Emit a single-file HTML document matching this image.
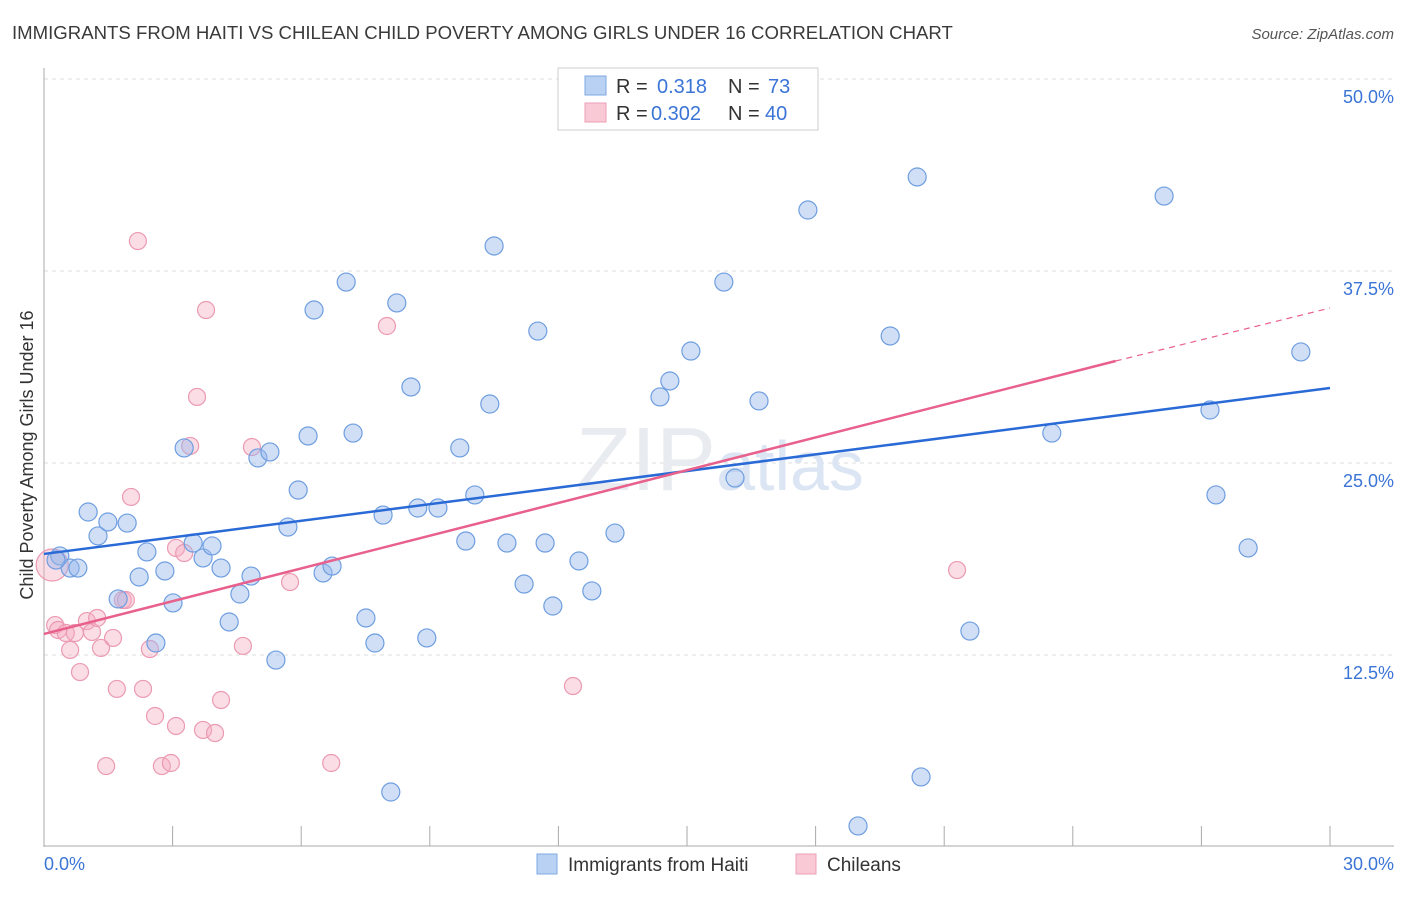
<!DOCTYPE html>
<html><head><meta charset="utf-8"><style>
body{margin:0;background:#fff;font-family:"Liberation Sans",sans-serif;}
svg text{font-family:"Liberation Sans",sans-serif;}
</style></head><body>
<svg id="chart" width="1406" height="892">
<text x="12" y="39" font-size="18.6" fill="#3a3a3a">IMMIGRANTS FROM HAITI VS CHILEAN CHILD POVERTY AMONG GIRLS UNDER 16 CORRELATION CHART</text>
<text x="1394" y="39" font-size="15" fill="#555" font-style="italic" text-anchor="end">Source: ZipAtlas.com</text>
<g id="grid"></g>
<text x="720" y="490" font-size="90" fill="#e8ebf0" text-anchor="middle" font-family="Liberation Serif">ZIP<tspan font-family="Liberation Sans" font-size="70" fill="#dbe5f3">atlas</tspan></text>
<g id="marks"></g>
<text transform="translate(33,455) rotate(-90)" font-size="18" fill="#333" text-anchor="middle">Child Poverty Among Girls Under 16</text>
<g>
<rect x="558" y="68" width="260" height="62" fill="#fff" stroke="#ccc"/>
<rect x="585" y="76" width="21" height="19" fill="#b9d1f3" stroke="#7fa8e0"/>
<rect x="585" y="103" width="21" height="19" fill="#f9c9d6" stroke="#ec9fb5"/>
<text x="616" y="93" font-size="20" fill="#333">R =</text><text x="657" y="93" font-size="20" fill="#3a74d6">0.318</text>
<text x="728" y="93" font-size="20" fill="#333">N =</text><text x="768" y="93" font-size="20" fill="#3a74d6">73</text>
<text x="616" y="120" font-size="20" fill="#333">R =</text><text x="651" y="120" font-size="20" fill="#3a74d6">0.302</text>
<text x="728" y="120" font-size="20" fill="#333">N =</text><text x="765" y="120" font-size="20" fill="#3a74d6">40</text>
</g>
<g>
<rect x="537" y="854" width="20" height="20" fill="#b9d1f3" stroke="#7fa8e0"/>
<text x="568" y="871" font-size="19" fill="#333">Immigrants from Haiti</text>
<rect x="796" y="854" width="20" height="20" fill="#f9c9d6" stroke="#ec9fb5"/>
<text x="827" y="871" font-size="19" fill="#333">Chileans</text>
</g>
</svg>
<script>
const yTicks=[12.5,25,37.5,50];
const xTickLabels=["0.0%","30.0%"];
const haitiX=[0.37,0.61,0.79,1.03,1.26,1.49,1.94,1.73,2.22,2.40,2.61,2.82,3.01,3.27,3.48,3.71,3.92,4.13,4.32,4.57,4.83,4.99,5.27,5.41,5.69,5.93,6.16,6.30,6.51,6.72,7.05,7.21,7.51,7.72,7.91,8.09,8.23,8.56,8.72,8.93,9.19,9.70,9.84,10.05,10.40,10.50,10.80,11.20,11.52,11.69,11.87,12.48,12.78,13.32,14.37,14.60,15.09,15.86,16.12,16.68,17.82,18.99,19.74,20.37,20.46,21.60,23.51,26.13,27.20,27.34,28.09,29.32,0.28];
const haitiY=[18.95,18.16,18.16,21.81,20.25,21.16,21.09,16.15,17.58,19.21,13.28,17.97,15.89,25.98,19.79,18.82,19.60,18.16,14.65,16.47,17.64,25.33,25.72,12.17,20.83,23.24,26.76,34.96,17.84,18.29,36.78,26.95,14.91,13.28,21.61,3.58,35.42,29.95,22.07,13.61,22.07,25.98,19.92,22.92,28.84,39.13,19.79,17.12,33.59,19.79,15.69,18.62,16.67,20.44,29.30,30.34,32.29,36.78,24.02,29.04,41.47,1.37,33.27,43.62,4.56,14.06,26.95,42.38,28.45,22.92,19.47,32.23,18.68];
const chileX=[0.19,0.26,0.33,0.51,0.61,0.72,0.84,1.00,1.12,1.24,1.33,1.45,1.61,1.70,1.84,1.91,2.03,2.19,2.31,2.47,2.59,2.75,2.96,3.08,3.08,3.27,3.41,3.57,3.71,3.78,3.99,4.13,4.64,4.85,5.74,6.70,8.00,12.34,21.30,14.18];
const chileY=[18.36,14.45,14.13,13.93,12.83,13.93,11.39,14.71,14.0,14.91,12.96,5.27,13.61,10.29,16.08,16.08,22.79,39.45,10.29,12.89,8.53,5.27,5.47,7.88,19.47,19.14,26.11,29.30,7.62,34.96,7.42,9.57,13.09,26.04,17.25,5.47,33.92,10.48,18.03,48.18];
const haitiLine=[19.08,29.88];
const chileLine=[13.87,31.64,35.09];
const NS="http://www.w3.org/2000/svg";
const x0=44,x1=1330,yTop=79,yBot=847;
const sx=v=>x0+(v/30)*(x1-x0);
const sy=v=>yBot-(v/50)*(yBot-yTop);
const grid=document.getElementById('grid'),marks=document.getElementById('marks');
function mk(tag,attrs,parent){const e=document.createElementNS(NS,tag);for(const k in attrs)e.setAttribute(k,attrs[k]);parent.appendChild(e);return e;}
yTicks.forEach(t=>{
 const l=mk('line',{x1:x0,x2:1394,y1:sy(t),y2:sy(t),stroke:'#ddd','stroke-dasharray':'4,4'},grid);
 
 
 const tx=mk('text',{x:1394,y:sy(t)+24,'font-size':18,fill:'#3a74d6','text-anchor':'end'},grid);
 tx.textContent=t.toFixed(1)+'%';
 
 
});
const ax=mk('line',{x1:x0,x2:x0,y1:68,y2:847,stroke:'#aaa'},grid);


const bx=mk('line',{x1:x0,x2:1394,y1:846,y2:846,stroke:'#aaa'},grid);


for(let i=0;i<=10;i++){
 const t=mk('line',{x1:sx(i*3),x2:sx(i*3),y1:826,y2:846,stroke:'#aaa'},grid);
 
 
}
[[0,'start',44],[30,'end',1394]].forEach((d,i)=>{
 const t=mk('text',{x:d[2],y:870,'font-size':18,fill:'#3a74d6','text-anchor':d[1]},grid);
 t.textContent=xTickLabels[i];
 
 
});
chileX.forEach((v,i)=>{
 const c=mk('circle',{cx:sx(v),cy:sy(chileY[i]),r:i==0?16:8.5,fill:'rgba(246,170,192,0.4)',stroke:'#eb9ab2','stroke-width':1.2},marks);
 
 
});
haitiX.forEach((v,i)=>{
 const c=mk('circle',{cx:sx(v),cy:sy(haitiY[i]),r:9,fill:'rgba(150,185,236,0.45)',stroke:'#6f9ee0','stroke-width':1.2},marks);
 
 
});
const hl=mk('line',{x1:sx(0),y1:sy(haitiLine[0]),x2:sx(30),y2:sy(haitiLine[1]),stroke:'#2a6ad6','stroke-width':2.5},marks);


const cl=mk('line',{x1:sx(0),y1:sy(chileLine[0]),x2:sx(25),y2:sy(chileLine[1]),stroke:'#e8608c','stroke-width':2.5},marks);


const cd=mk('line',{x1:sx(25),y1:sy(chileLine[1]),x2:sx(30),y2:sy(chileLine[2]),stroke:'#e8608c','stroke-width':1.2,'stroke-dasharray':'6,5'},marks);


</script>
</body></html>
